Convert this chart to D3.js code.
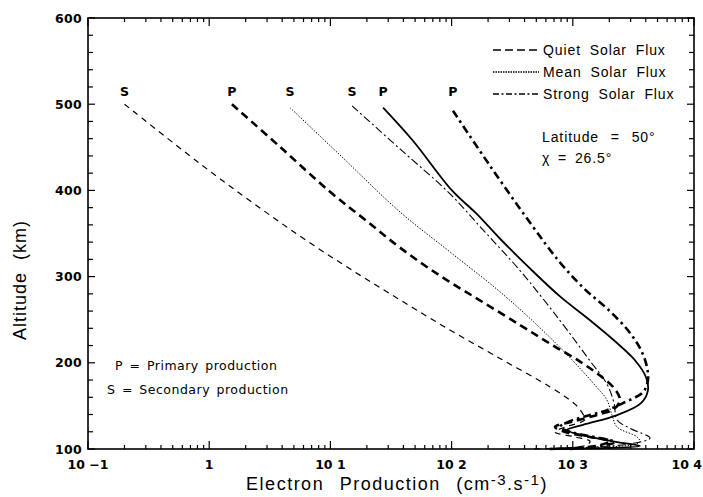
<!DOCTYPE html>
<html><head><meta charset="utf-8">
<script src="https://cdn.jsdelivr.net/npm/d3@7"></script>
<style>body{margin:0;background:#fff}svg{display:block}</style>
</head><body><svg id="c" width="703" height="497"></svg>
<script>
// ---- data: [value (cm-3 s-1), altitude (km)] ----
const quietS = [[0.20,500],[0.84,431],[2.17,388],[5.6,347],[14.5,309],[37.5,273],[97,238],[251,205],[649,172],[1042,152],[1213,140.5],[1260,134],[863,125.5],[713,119.7],[1042,114],[1387,109],[1300,104.6],[784,101.2],[443,100]];
const quietP = [[1.54,500],[3.84,450.5],[9.93,398.4],[19.3,366],[37.5,333.6],[80.2,301],[171,272.5],[367,243.8],[649,222.2],[1146,201.4],[1675,185.2],[2229,169.4],[2449,156.7],[2188,146.3],[1675,140.5],[1042,132.4],[713,125.5],[863,119.7],[1387,113.9],[2028,109.3],[1675,104.6],[1042,101.2],[649,100]];
const meanS  = [[4.64,496],[12.0,441],[37.5,375],[97,328.6],[251,282.3],[536,240.6],[948,205.9],[1524,174],[1915,156.7],[2105,139.4],[2320,125.5],[3390,114],[3580,108],[1915,102],[1004,101],[700,100]];
const meanP  = [[27.2,496],[48,457.6],[100.7,400],[162,372.5],[250,344.2],[443,309.5],[784,277],[1387,249.3],[2229,225],[3258,203],[4018,183.3],[4170,168.3],[3656,153.2],[2320,139.4],[1213,128],[895,122],[1387,114],[2320,108],[3580,103.5],[1915,101.2],[687,100]];
const strongS= [[15.1,498],[37.5,448.1],[97,396],[189,351.5],[367,307],[784,249],[1387,202.2],[1915,175.2],[2188,153.2],[2320,133.6],[2965,124],[4340,112.7],[2965,106],[1387,102],[784,100]];
const strongP= [[102.6,492.4],[207,428.7],[443,362.7],[784,316.4],[1259,285.2],[1950,262],[2851,237.7],[3656,214.6],[4093,194.9],[4170,180],[3795,166],[2594,153.2],[1915,145.1],[1387,139.4],[948,132.4],[784,125.5],[1042,118.5],[1675,112.7],[2229,108],[1675,103.5],[948,100]];

const seriesNames = ["Quiet Solar Flux","Mean Solar Flux","Strong Solar Flux"];
const curveLetters = ["S","P","S","S","P","P"];
const xTickValues = [0.1,1,10,100,1000,10000];
const xTickLabels = ["10 \u22121","1","10 1","10 2","10 3","10 4"];
const yTickValues = [100,200,300,400,500,600];

const svg = d3.select("#c");
const L=88, R=694, T=18, B=449;
const x = d3.scaleLog().domain([0.1,10000]).range([L,R]);
const y = d3.scaleLinear().domain([100,600]).range([B,T]);

// frame
const g = svg.append("g").attr("stroke","#000").attr("fill","none");
g.append("rect").attr("x",L).attr("y",T).attr("width",R-L).attr("height",B-T).attr("stroke-width",1.6);

// ticks
const minor=[];
for(let e=-1;e<4;e++) for(let k=1;k<10;k++) minor.push(k*Math.pow(10,e));
minor.push(10000);
minor.forEach(v=>{
  const maj = xTickValues.some(t=>Math.abs(t-v)/v<1e-9);
  const len = maj?8:4;
  g.append("line").attr("x1",x(v)).attr("x2",x(v)).attr("y1",B).attr("y2",B-len).attr("stroke-width",1.2);
  g.append("line").attr("x1",x(v)).attr("x2",x(v)).attr("y1",T).attr("y2",T+len).attr("stroke-width",1.2);
});
d3.range(100,601,20).forEach(v=>{
  const maj = v%100===0;
  const len = maj?7:5;
  g.append("line").attr("x1",L).attr("x2",L+len).attr("y1",y(v)).attr("y2",y(v)).attr("stroke-width",1.2);
  g.append("line").attr("x1",R).attr("x2",R-len).attr("y1",y(v)).attr("y2",y(v)).attr("stroke-width",1.2);
});

// tick labels
const tf = "'DejaVu Sans', sans-serif";
const sf = "'Liberation Sans', Arial, sans-serif";
svg.append("g").selectAll("text").data(yTickValues).join("text")
  .attr("x",L-6).attr("y",d=>y(d)+4.5).attr("text-anchor","end")
  .attr("font-family",tf).attr("font-weight","bold").attr("font-size",12.5).attr("letter-spacing",0.3).text(d=>d);
svg.append("g").selectAll("text").data(xTickValues).join("text")
  .attr("x",(d,i)=>i===xTickValues.length-1?702:x(d)).attr("y",469)
  .attr("text-anchor",(d,i)=>i===xTickValues.length-1?"end":"middle")
  .attr("font-family",tf).attr("font-size",12.5).attr("font-weight","bold").text((d,i)=>xTickLabels[i]);

// axis titles
const at = svg.append("text").attr("x",397).attr("y",490).attr("text-anchor","middle")
  .attr("font-family",sf).attr("font-size",18).attr("letter-spacing",1.5).attr("word-spacing",9);
at.append("tspan").text("Electron Production (cm");
at.append("tspan").attr("dy",-5).attr("font-size",15).text("-3");
at.append("tspan").attr("dy",5).text(".s");
at.append("tspan").attr("dy",-5).attr("font-size",15).text("-1");
at.append("tspan").attr("dy",5).text(")");
svg.append("text").attr("transform","translate(26,280) rotate(-90)").attr("text-anchor","middle")
  .attr("font-family",sf).attr("font-size",18).attr("letter-spacing",1).attr("word-spacing",6)
  .text("Altitude (km)");

// curves
const line = d3.line().x(d=>x(d[0])).y(d=>y(d[1])).curve(d3.curveCatmullRom.alpha(0.5));
const styles = [
  {d:quietS, w:1.2, dash:"6,5"},
  {d:quietP, w:2.6, dash:"8,5"},
  {d:meanS,  w:1.0, dash:"1.4,1.6"},
  {d:strongS,w:1.1, dash:"8,3,2,3"},
  {d:meanP,  w:1.8, dash:null},
  {d:strongP,w:2.6, dash:"8,4,2.5,4"}
];
const cg = svg.append("g").attr("fill","none").attr("stroke","#000");
styles.forEach(s=>{
  const p = cg.append("path").attr("d",line(s.d)).attr("stroke-width",s.w);
  if(s.dash) p.attr("stroke-dasharray",s.dash);
});
svg.append("g").selectAll("text").data(styles).join("text")
  .attr("x",d=>x(d.d[0][0])).attr("y",96).attr("text-anchor","middle")
  .attr("font-family",tf).attr("font-weight","bold").attr("font-size",12.5)
  .text((d,i)=>curveLetters[i]);

// legend
const lg = svg.append("g");
const legDash = ["8,4","1.5,1","6,2.5,2,2.5"];
seriesNames.forEach((n,i)=>{
  const yy = 50+i*22;
  lg.append("line").attr("x1",493).attr("x2",539).attr("y1",yy).attr("y2",yy)
    .attr("stroke","#000").attr("stroke-width",1.3).attr("stroke-dasharray",legDash[i]);
  lg.append("text").attr("x",543).attr("y",yy+5).attr("font-family",sf)
    .attr("font-size",14).attr("letter-spacing",0.9).attr("word-spacing",4).text(n);
});
svg.append("text").attr("x",542).attr("y",142).attr("font-family",sf)
  .attr("font-size",14).attr("letter-spacing",0.9).attr("word-spacing",7).text("Latitude = 50°");
svg.append("text").attr("x",542).attr("y",163).attr("font-family",sf)
  .attr("font-size",14).attr("letter-spacing",0.9).attr("word-spacing",3).text("\u03C7 = 26.5°");

svg.append("text").attr("x",115).attr("y",370).attr("font-family",tf).attr("font-size",12.5).attr("letter-spacing",0.5).attr("word-spacing",2).text("P = Primary production");
svg.append("text").attr("x",107).attr("y",394).attr("font-family",tf).attr("font-size",12.5).attr("letter-spacing",0.5).attr("word-spacing",2).text("S = Secondary production");
</script></body></html>
